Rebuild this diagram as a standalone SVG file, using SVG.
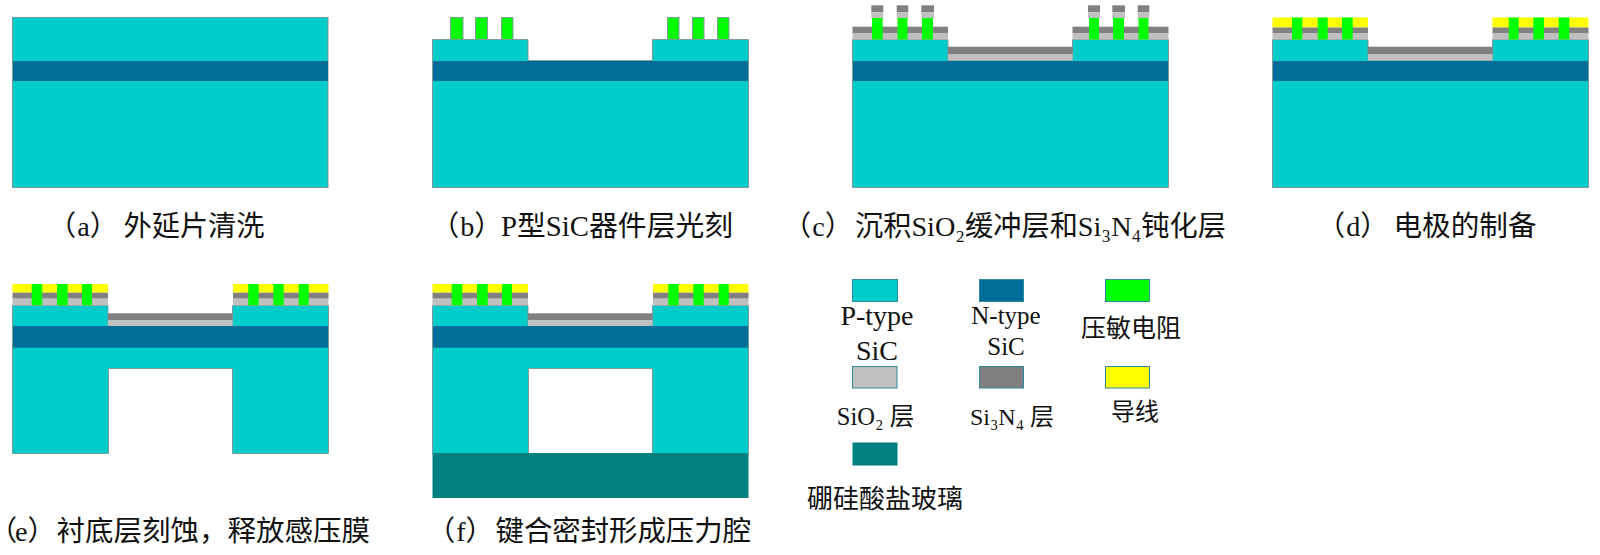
<svg xmlns="http://www.w3.org/2000/svg" width="1600" height="555" viewBox="0 0 1600 555">
<style>
.p{fill:#00cccc}.n{fill:#006e99}.g{fill:#00ff00}.o{fill:#c0c0c0}.s{fill:#808080}.y{fill:#ffff00}.b{fill:#008080}
.e{stroke:#7f9c9c;stroke-width:1}
.l{stroke:#2f8a9e;stroke-width:1}
text{font-family:"Liberation Serif","Noto Sans CJK SC",serif;fill:#111;font-size:28.2px}
.m{text-anchor:middle}
</style>
<rect width="1600" height="555" fill="#fff"/>

<g id="panel-a">
<rect class="p e" x="12.5" y="17.5" width="315.5" height="170"/>
<rect class="n" x="13" y="61" width="315" height="20"/>
<text x="48" y="236">（<tspan dx="1">a</tspan>）<tspan x="123.5">外延片清洗</tspan></text>
</g>

<g id="panel-b">
<path class="p e" d="M432.5 39.5H528V60.5H652.5V39.5H748.5V187.5H432.5Z"/>
<rect class="n" x="433" y="61" width="315" height="20"/>
<g class="g e">
<rect x="450.5" y="17.5" width="12.5" height="22"/><rect x="475.5" y="17.5" width="12" height="22"/><rect x="501.5" y="17.5" width="11.5" height="22"/>
<rect x="667.5" y="17.5" width="11.5" height="22"/><rect x="692.5" y="17.5" width="11.5" height="22"/><rect x="717.5" y="17.5" width="11.5" height="22"/>
</g>
<text x="431" y="236">（<tspan dx="1">b</tspan>）<tspan x="501" style="font-size:28.8px">P型SiC器件层光刻</tspan></text>
</g>

<g id="panel-c">
<path class="p e" d="M852.5 39.5H948V60.5H1072.5V39.5H1168.5V187.5H852.5Z"/>
<rect class="n" x="853" y="61" width="315" height="20"/>
<rect class="s" x="852.5" y="26.7" width="95.5" height="6.8"/><rect class="o" x="852.5" y="33.5" width="95.5" height="6"/>
<rect class="s" x="1072.5" y="26.7" width="96" height="6.8"/><rect class="o" x="1072.5" y="33.5" width="96" height="6"/>
<rect class="s" x="948" y="46.7" width="124.5" height="7.3"/><rect class="o" x="948" y="54" width="124.5" height="6.5"/>
<g class="s">
<rect x="871.3" y="5.3" width="12" height="7"/><rect x="896.7" y="5.3" width="11.6" height="7"/><rect x="921.3" y="5.3" width="12.7" height="7"/>
<rect x="1088" y="5.3" width="12" height="7"/><rect x="1112.3" y="5.3" width="12.7" height="7"/><rect x="1137.7" y="5.3" width="11.6" height="7"/>
</g>
<g class="o">
<rect x="871.3" y="12.3" width="12" height="6"/><rect x="896.7" y="12.3" width="11.6" height="6"/><rect x="921.3" y="12.3" width="12.7" height="6"/>
<rect x="1088" y="12.3" width="12" height="6"/><rect x="1112.3" y="12.3" width="12.7" height="6"/><rect x="1137.7" y="12.3" width="11.6" height="6"/>
</g>
<g class="g">
<rect x="872" y="18" width="10.7" height="21.5"/><rect x="897.5" y="18" width="10" height="21.5"/><rect x="922" y="18" width="11" height="21.5"/>
<rect x="1089" y="18" width="10" height="21.5"/><rect x="1113" y="18" width="11" height="21.5"/><rect x="1138.5" y="18" width="10" height="21.5"/>
</g>
<text x="783" y="236">（<tspan dx="1">c</tspan>）<tspan x="855">沉积SiO₂缓冲层和Si₃N₄钝化层</tspan></text>
</g>

<g id="panel-d">
<path class="p e" d="M1272.5 39.5H1368V60.5H1492.5V39.5H1588.5V187.5H1272.5Z"/>
<rect class="n" x="1273" y="61" width="315" height="20"/>
<rect class="y" x="1272.5" y="17.5" width="95.5" height="10"/><rect class="s" x="1272.5" y="27.5" width="95.5" height="6"/><rect class="o" x="1272.5" y="33.5" width="95.5" height="6"/>
<rect class="y" x="1492.5" y="17.5" width="96" height="10"/><rect class="s" x="1492.5" y="27.5" width="96" height="6"/><rect class="o" x="1492.5" y="33.5" width="96" height="6"/>
<rect class="s" x="1368" y="46.7" width="124.5" height="7.3"/><rect class="o" x="1368" y="54" width="124.5" height="6.5"/>
<g class="g">
<rect x="1292" y="17.5" width="10.3" height="22"/><rect x="1317.7" y="17.5" width="10" height="22"/><rect x="1342" y="17.5" width="10.7" height="22"/>
<rect x="1508.7" y="17.5" width="10" height="22"/><rect x="1533.3" y="17.5" width="10.7" height="22"/><rect x="1558.7" y="17.5" width="10.6" height="22"/>
</g>
<text x="1317" y="236">（<tspan dx="1">d</tspan>）<tspan x="1393.5" style="font-size:28.6px">电极的制备</tspan></text>
</g>

<g id="panel-e">
<path class="p e" d="M12.5 305.5H108V326H232.5V305.5H328.5V453.5H232.5V368.5H108.5V453.5H12.5Z"/>
<rect class="n" x="13" y="326" width="315" height="21.7"/>
<rect class="y" x="12.5" y="284" width="95.5" height="8.7"/><rect class="s" x="12.5" y="292.7" width="95.5" height="6"/><rect class="o" x="12.5" y="298.7" width="95.5" height="6.6"/>
<rect class="y" x="233" y="284" width="95.5" height="8.7"/><rect class="s" x="233" y="292.7" width="95.5" height="6"/><rect class="o" x="233" y="298.7" width="95.5" height="6.6"/>
<rect class="s" x="108" y="313.3" width="124.5" height="6.7"/><rect class="o" x="108" y="320" width="124.5" height="6"/>
<g class="g">
<rect x="31.7" y="284" width="10.6" height="21.3"/><rect x="57" y="284" width="10.7" height="21.3"/><rect x="82" y="284" width="10" height="21.3"/>
<rect x="248.3" y="284" width="10.4" height="21.3"/><rect x="273.3" y="284" width="10.4" height="21.3"/><rect x="298.7" y="284" width="10" height="21.3"/>
</g>
<text x="2" y="541"><tspan style="font-feature-settings:'palt'">（</tspan><tspan x="15">e</tspan>）<tspan x="56.5" style="font-size:28.5px">衬底层刻蚀，释放感压膜</tspan></text>
</g>

<g id="panel-f">
<path class="p e" d="M432.5 305.5H528V326H652.5V305.5H748.5V453.5H652.5V368.5H528.5V453.5H432.5Z"/>
<rect class="n" x="433" y="326" width="315" height="21.7"/>
<rect class="b" x="432.5" y="453" width="316" height="45"/>
<rect class="y" x="432.5" y="284" width="95.5" height="8.7"/><rect class="s" x="432.5" y="292.7" width="95.5" height="6"/><rect class="o" x="432.5" y="298.7" width="95.5" height="6.6"/>
<rect class="y" x="653" y="284" width="95.5" height="8.7"/><rect class="s" x="653" y="292.7" width="95.5" height="6"/><rect class="o" x="653" y="298.7" width="95.5" height="6.6"/>
<rect class="s" x="528" y="313.3" width="124.5" height="6.7"/><rect class="o" x="528" y="320" width="124.5" height="6"/>
<g class="g">
<rect x="451.7" y="284" width="10.6" height="21.3"/><rect x="477" y="284" width="10.7" height="21.3"/><rect x="502" y="284" width="10" height="21.3"/>
<rect x="668.3" y="284" width="10.4" height="21.3"/><rect x="693.3" y="284" width="10.4" height="21.3"/><rect x="718.7" y="284" width="10" height="21.3"/>
</g>
<text x="427" y="541">（<tspan dx="1">f</tspan>）<tspan x="495.5" style="font-size:28.4px">键合密封形成压力腔</tspan></text>
</g>

<g id="legend-p">
<rect class="p l" x="852.5" y="279.5" width="45" height="22"/>
<text class="m" x="877" y="325" style="font-size:28px">P-type</text>
<text class="m" x="877" y="360" style="font-size:28px">SiC</text>
</g>
<g id="legend-n">
<rect class="n l" x="979.5" y="279.5" width="44" height="22"/>
<text class="m" x="1006" y="324" style="font-size:25px">N-type</text>
<text class="m" x="1006" y="355" style="font-size:25px">SiC</text>
</g>
<g id="legend-r">
<rect class="g l" x="1105.5" y="279.5" width="44" height="22"/>
<text class="m" x="1131" y="337" style="font-size:25px">压敏电阻</text>
</g>
<g id="legend-o">
<rect class="o l" x="852.5" y="366.5" width="44.5" height="21.5"/>
<text class="m" x="875.5" y="425" style="font-size:24.5px">SiO₂ 层</text>
</g>
<g id="legend-s">
<rect class="s l" x="979.5" y="366.5" width="44" height="21.5"/>
<text class="m" x="1012" y="425" style="font-size:24px">Si₃N₄ 层</text>
</g>
<g id="legend-y">
<rect class="y l" x="1105.5" y="366.5" width="44" height="21.5"/>
<text class="m" x="1135" y="420" style="font-size:24px">导线</text>
</g>
<g id="legend-b">
<rect class="b" x="852.5" y="442.5" width="45" height="23"/>
<text class="m" x="885" y="508" style="font-size:26px">硼硅酸盐玻璃</text>
</g>
</svg>
